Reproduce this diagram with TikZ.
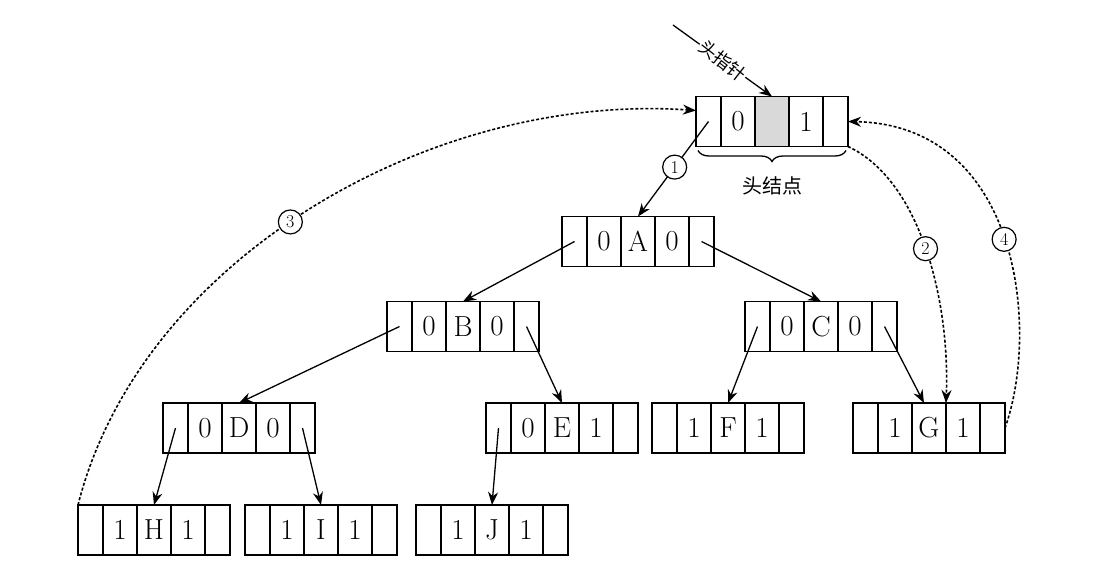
\documentclass[tikz,border=0pt]{standalone}
\usepackage{fontspec}
\newfontfamily\cjk{Noto Sans CJK SC}
\usetikzlibrary{positioning,arrows.meta,decorations.pathreplacing}

\tikzset{every picture/.style={line width=1.3pt}}
\tikzset{
  datacell/.style={draw, line width=1.6pt, minimum width=34pt, minimum height=50pt, inner sep=0pt, outer sep=0pt, font=\fontsize{29}{32}\selectfont},
  ptrcell/.style={datacell, minimum width=25pt},
  linkarr/.style={-{Stealth[length=13pt,width=10pt]}},
  threadarr/.style={linkarr, dash pattern=on 3pt off 2pt, line width=1.6pt},
  numlabel/.style={circle, draw, solid, fill=white, line width=1.2pt, inner sep=0.5pt, minimum size=24pt, font=\fontsize{18}{18}\selectfont}
}

% one record: left ptr, ltag, data, rtag, right ptr
\newcommand{\thrnode}[7][]{%
  \node[datacell,#1] (#2-d) at (#3,#4) {#6};
  \node[datacell, left=0pt of #2-d] (#2-lt) {#5};
  \node[ptrcell, left=0pt of #2-lt] (#2-l) {};
  \node[datacell, right=0pt of #2-d] (#2-rt) {#7};
  \node[ptrcell, right=0pt of #2-rt] (#2-r) {};
}

\begin{document}
\begin{tikzpicture}[x=1pt,y=1pt,yscale=-1,xscale=1]
		\useasboundingbox (0,0) rectangle (1108,574);

		%Shape: head node
		\thrnode[fill=gray!30]{head}{772}{121.5}{0}{}{1}
		%Shape: tree nodes
		\thrnode{A}{638}{241.5}{0}{A}{0}
		\thrnode{B}{463}{326.5}{0}{B}{0}
		\thrnode{C}{821}{326.5}{0}{C}{0}
		\thrnode{D}{239}{428}{0}{D}{0}
		\thrnode{E}{562}{428}{0}{E}{1}
		\thrnode{F}{728}{428}{1}{F}{1}
		\thrnode{G}{929}{428}{1}{G}{1}
		\thrnode{H}{154}{530}{1}{H}{1}
		\thrnode{I}{321}{530}{1}{I}{1}
		\thrnode{J}{492}{530}{1}{J}{1}

		%Straight Lines: head pointer
		\coordinate (hp) at (673,25);
		\draw[linkarr] (hp) -- node[fill=white, inner sep=1pt, rotate=-38, font=\cjk\fontsize{18}{18}\selectfont] {头指针} (head-d.north);

		%Brace: head node
		\draw[decorate, decoration={brace, mirror, amplitude=11pt}, line width=1.3pt] ([xshift=2pt,yshift=4pt]head-l.south west) -- ([xshift=-2pt,yshift=4pt]head-r.south east) node[midway, below=22pt, font=\cjk\fontsize{20}{20}\selectfont] (hlabel) {头结点};

		%Straight Lines: child links
		\draw[linkarr] (head-l.center) -- node[numlabel, pos=0.48] {1} (A-d.north);
		\draw[linkarr] (A-l.center) -- (B-d.north);
		\draw[linkarr] (A-r.center) -- (C-d.north);
		\draw[linkarr] (B-l.center) -- (D-d.north);
		\draw[linkarr] (B-r.center) -- (E-d.north);
		\draw[linkarr] (C-l.center) -- (F-d.north);
		\draw[linkarr] (C-r.center) -- ([xshift=-5pt]G-d.north);
		\draw[linkarr] (D-l.center) -- (H-d.north);
		\draw[linkarr] (D-r.center) -- (I-d.north);
		\draw[linkarr] (E-l.center) -- (J-d.north);

		%Curve Lines: threads
		\draw[threadarr] (H-l.north west) .. controls (140,260) and (430,92) .. node[numlabel, pos=0.47] {3} ([yshift=-11pt]head-l.west);
		\draw[threadarr] (head-r.south east) .. controls (920,180) and (950,300) .. node[numlabel, pos=0.5] {2} (G-d.north east);
		\draw[threadarr] (G-r.east) .. controls (1040,330) and (1020,125) .. node[numlabel, pos=0.5] {4} (head-r.east);

		\end{tikzpicture}
\end{document}
